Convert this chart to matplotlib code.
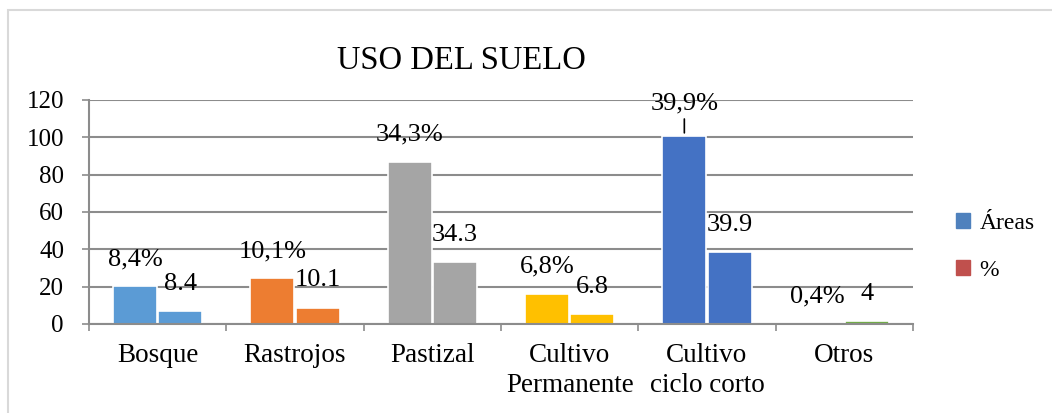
import numpy as np
import matplotlib
matplotlib.use("Agg")
import matplotlib.pyplot as plt
from matplotlib.patches import Patch, Rectangle

plt.rcParams['font.family'] = ['Liberation Serif', 'DejaVu Serif']

# Datos
categorias = ["Bosque", "Rastrojos", "Pastizal", "Cultivo\nPermanente", "Cultivo\nciclo corto", "Otros"]
areas = [20.2, 24.6, 86.8, 16.2, 100.9, 0.0]
porcentaje = [7.1, 8.8, 33.0, 5.4, 38.6, 1.5]
etiquetas_areas = ["8,4%", "10,1%", "34,3%", "6,8%", "39,9%", "0,4%"]
etiquetas_pct = ["8.4", "10.1", "34.3", "6.8", "39.9", "4"]
colores = ["#5B9BD5", "#ED7D31", "#A5A5A5", "#FFC000", "#4472C4", "#70AD47"]

fig = plt.figure(figsize=(10.52, 4.13), dpi=100)
ax = fig.add_axes([89 / 1052, 89 / 413, 824 / 1052, 224 / 413])

x = np.arange(len(categorias))
w = 0.32
ax.bar(x - 0.165, areas, w, color=colores, edgecolor="white", linewidth=1.2, zorder=2)
ax.bar(x + 0.165, porcentaje, w, color=colores, edgecolor="white", linewidth=1.2, zorder=2)

# Etiquetas de datos
for i in range(len(categorias)):
    off = 23 if i == 4 else 19.5
    dx = -3 if i == 5 else 0
    ax.annotate(etiquetas_areas[i], (x[i] - 0.165, areas[i]), xytext=(dx, off),
                textcoords="offset points", ha="center", va="center", fontsize=19, zorder=3)
    ax.annotate(etiquetas_pct[i], (x[i] + 0.165, porcentaje[i]), xytext=(0, 19.5),
                textcoords="offset points", ha="center", va="center", fontsize=19, zorder=3)

# Línea guía de la etiqueta de cultivo ciclo corto
ax.annotate("", (x[4] - 0.165, areas[4]), xytext=(0, 12), textcoords="offset points",
            arrowprops=dict(arrowstyle="-", color="black", lw=1.2, shrinkA=0, shrinkB=2))

ax.set_xlim(-0.5, len(categorias) - 0.5)
ax.set_ylim(0, 120)
ax.set_yticks(range(0, 121, 20))
ax.yaxis.grid(True, color="#8C8C8C", linewidth=1.5, zorder=0)
ax.set_axisbelow(True)

ax.set_xticks(x)
ax.set_xticklabels(categorias, fontsize=19.5, linespacing=1.25)
ax.set_xticks(np.arange(-0.5, len(categorias), 1), minor=True)
ax.tick_params(axis="x", which="major", length=0, pad=14)
ax.tick_params(axis="x", which="minor", length=5, width=1.2, color="#8C8C8C")
ax.tick_params(axis="y", length=5, width=1.2, color="#8C8C8C", labelsize=18, pad=13)

for s in ["top", "right"]:
    ax.spines[s].set_visible(False)
for s in ["left", "bottom"]:
    ax.spines[s].set_color("#8C8C8C")
    ax.spines[s].set_linewidth(1.5)

fig.text(461 / 1052, 1 - 61 / 413, "USO DEL SUELO", ha="center", va="center", fontsize=23.5)

handles = [Patch(color="#4F81BD", label="Áreas"), Patch(color="#C0504D", label="%")]
fig.legend(handles=handles, loc="center left", bbox_to_anchor=(956 / 1052, 1 - 247 / 413),
           frameon=False, fontsize=17, handlelength=0.6, handleheight=0.6,
           handletextpad=0.4, labelspacing=1.1, borderpad=0, borderaxespad=0)

# Borde exterior del gráfico
fig.patches.append(Rectangle((8 / 1052, -0.1), 1.1, 1 - 10 / 413 + 0.1, transform=fig.transFigure,
                             fill=False, edgecolor="#D9D9D9", linewidth=1.5))

fig.savefig("out.png", dpi=100)
